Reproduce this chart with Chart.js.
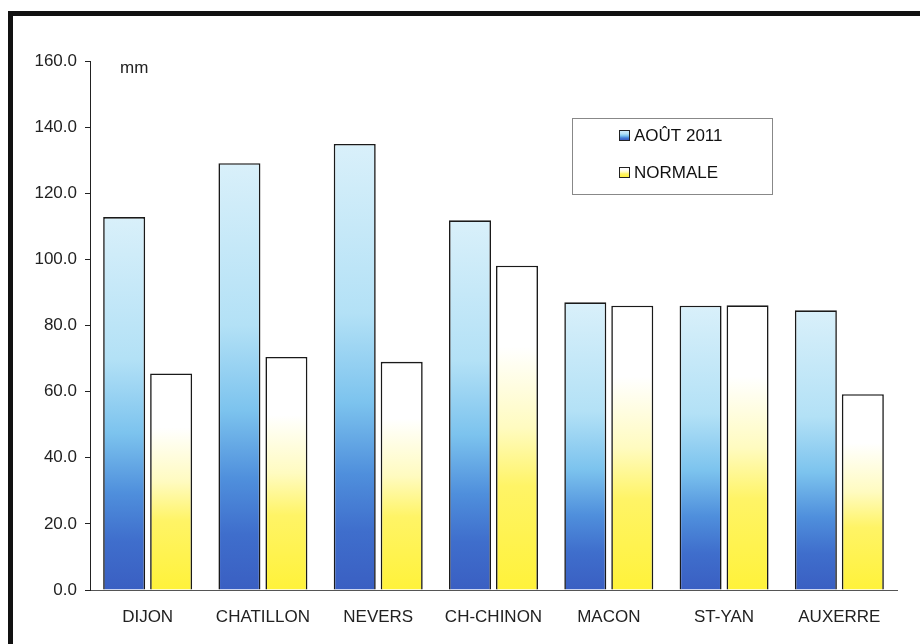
<!DOCTYPE html>
<html>
<head>
<meta charset="utf-8">
<script src="https://cdn.jsdelivr.net/npm/chart.js@4"></script>
<style>
  body { margin: 0; background: #fff; }
  #wrap { position: relative; width: 920px; height: 644px; }
</style>
</head>
<body>
<div id="wrap"><canvas id="myChart" width="920" height="644"></canvas></div>
<script>
const stations = ['DIJON', 'CHATILLON', 'NEVERS', 'CH-CHINON', 'MACON', 'ST-YAN', 'AUXERRE'];
const aout2011 = [112.8, 129.1, 134.9, 111.8, 87.0, 86.0, 84.6];
const normale = [65.5, 70.5, 69.0, 98.1, 86.0, 86.1, 59.2];
const yTicks = [0, 20, 40, 60, 80, 100, 120, 140, 160];

const FONT = "'Liberation Sans', Arial, sans-serif";

function blueStops(g) {
  g.addColorStop(0, '#d9f0fa');
  g.addColorStop(0.38, '#b3e1f6');
  g.addColorStop(0.58, '#7cc3ee');
  g.addColorStop(0.74, '#4f8fdc');
  g.addColorStop(0.87, '#3f6ecc');
  g.addColorStop(1, '#3a5fc2');
  return g;
}
function yellowStops(g) {
  g.addColorStop(0, '#ffffff');
  g.addColorStop(0.25, '#ffffff');
  g.addColorStop(0.5, '#fffbc0');
  g.addColorStop(0.68, '#fff466');
  g.addColorStop(1, '#fff23a');
  return g;
}

// one gradient per bar, from its top down to zero
function barFill(stops) {
  return function (c) {
    const chart = c.chart;
    if (!chart.chartArea || c.raw === undefined) return '#ffffff';
    const y = chart.scales.y;
    const top = y.getPixelForValue(c.raw);
    const bot = y.getPixelForValue(0);
    return stops(chart.ctx.createLinearGradient(0, top, 0, bot));
  };
}

const extras = {
  id: 'extras',
  afterDraw(chart) {
    const ctx = chart.ctx;
    ctx.save();
    // frame
    ctx.fillStyle = '#111';
    ctx.fillRect(8, 11, 912, 5);
    ctx.fillRect(8, 11, 5, 633);
    // unit
    ctx.fillStyle = '#222';
    ctx.font = '17px ' + FONT;
    ctx.textBaseline = 'middle';
    ctx.fillText('mm', 120, 68);
    // legend
    ctx.strokeStyle = '#888';
    ctx.lineWidth = 1;
    ctx.strokeRect(572.5, 118.5, 200, 76);
    const rows = [135, 172];
    const stops = [blueStops, yellowStops];
    chart.data.datasets.forEach((ds, i) => {
      const yy = rows[i];
      ctx.fillStyle = stops[i](ctx.createLinearGradient(0, yy - 5, 0, yy + 5));
      ctx.fillRect(619, yy - 5, 11, 11);
      ctx.strokeStyle = '#222';
      ctx.strokeRect(619.5, yy - 4.5, 10, 10);
      ctx.fillStyle = '#111';
      ctx.font = '17px ' + FONT;
      ctx.fillText(ds.label, 634, yy + 1);
    });
    ctx.restore();
  }
};

new Chart(document.getElementById('myChart'), {
  type: 'bar',
  data: {
    labels: stations,
    datasets: [{
      label: 'AOÛT 2011',
      data: aout2011,
      backgroundColor: barFill(blueStops),
      borderColor: '#1a1a1a',
      borderWidth: 1.6
    }, {
      label: 'NORMALE',
      data: normale,
      backgroundColor: barFill(yellowStops),
      borderColor: '#1a1a1a',
      borderWidth: 1.6
    }]
  },
  options: {
    responsive: false,
    animation: false,
    layout: { padding: { left: 0, right: 23, top: 61, bottom: 0 } },
    datasets: { bar: { categoryPercentage: 0.815, barPercentage: 0.894 } },
    plugins: { legend: { display: false }, tooltip: { enabled: false } },
    scales: {
      x: {
        grid: { display: false, drawTicks: false },
        border: { display: true, color: '#555', width: 1 },
        ticks: { color: '#222', font: { family: FONT, size: 17 }, padding: 17, maxRotation: 0 },
        afterFit(scale) { scale.height = 54; }
      },
      y: {
        min: 0,
        max: 160,
        afterBuildTicks(scale) { scale.ticks = yTicks.map(v => ({ value: v })); },
        grid: { drawOnChartArea: false, drawTicks: true, tickLength: 5, color: '#222' },
        border: { display: true, color: '#222', width: 1 },
        ticks: {
          color: '#222',
          font: { family: FONT, size: 17 },
          padding: 8,
          callback: v => v.toFixed(1)
        },
        afterFit(scale) { scale.width = 90; }
      }
    }
  },
  plugins: [extras]
});
</script>
</body>
</html>
